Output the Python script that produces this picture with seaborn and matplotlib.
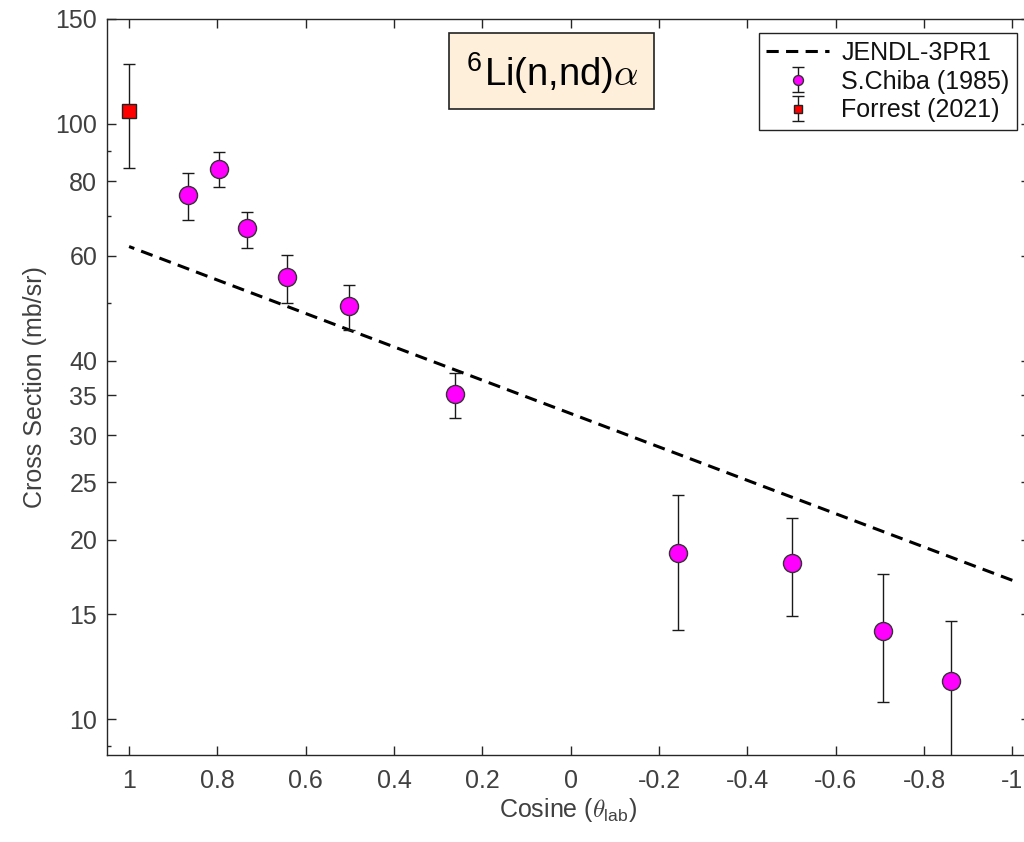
import numpy as np
import matplotlib
matplotlib.use("Agg")
import matplotlib.pyplot as plt
import seaborn as sns
from matplotlib.patches import Rectangle
from matplotlib.ticker import FixedLocator, FixedFormatter, NullFormatter

# JENDL-3PR1 evaluated angular distribution
jendl_cos = [1.0, 0.5, 0.0, -0.5, -1.0]
jendl_xs = [62.2, 45.0, 32.6, 23.6, 17.1]

# S. Chiba (1985) measured points with upper / lower error limits
chiba_cos = [0.866, 0.797, 0.732, 0.643, 0.503, 0.262, -0.242, -0.5, -0.707, -0.862]
chiba_xs = [76.0, 84.0, 66.7, 55.2, 49.5, 35.1, 19.0, 18.3, 14.05, 11.6]
chiba_hi = [82.8, 89.8, 71.2, 60.3, 53.5, 38.2, 23.8, 21.8, 17.5, 14.6]
chiba_lo = [69.0, 78.4, 61.9, 50.0, 45.1, 32.0, 14.1, 14.9, 10.7, 8.6]

# Forrest (2021) point
forrest_cos = [1.0]
forrest_xs = [105.0]
forrest_hi = [126.0]
forrest_lo = [84.4]

x_ticks = [1.0, 0.8, 0.6, 0.4, 0.2, 0.0, -0.2, -0.4, -0.6, -0.8, -1.0]
x_tick_labels = ["1", "0.8", "0.6", "0.4", "0.2", "0", "-0.2", "-0.4", "-0.6", "-0.8", "-1"]
y_ticks = [10, 15, 20, 25, 30, 35, 40, 60, 80, 100, 150]
y_tick_labels = ["10", "15", "20", "25", "30", "35", "40", "60", "80", "100", "150"]
y_minor_ticks = [9, 50, 70, 90]

sns.set_style("ticks")
plt.rcParams["font.family"] = ["Liberation Sans", "DejaVu Sans"]
plt.rcParams["mathtext.fontset"] = "cm"

AX_COLOR = "#262626"
TXT_COLOR = "#404040"

W, H = 1024, 842
fig = plt.figure(figsize=(W / 100, H / 100), dpi=100)
ax = fig.add_axes([107 / W, 87 / H, 923 / W, 736 / H])

# evaluated curve
sns.lineplot(x=jendl_cos, y=jendl_xs, ax=ax, color="black", linewidth=2.2,
             linestyle=(0, (4.0, 2.4)), label="JENDL-3PR1", legend=False)
jendl_handle = ax.lines[-1]

chiba_err = [np.subtract(chiba_xs, chiba_lo), np.subtract(chiba_hi, chiba_xs)]
chiba = ax.errorbar(chiba_cos, chiba_xs, yerr=chiba_err, fmt="o", ms=13,
                    mfc="#FF00FF", mec="#333333", mew=1.0, ecolor="#1a1a1a",
                    elinewidth=1.0, capsize=4.3, capthick=1.0,
                    label="S.Chiba (1985)", zorder=3)

forrest_err = [np.subtract(forrest_xs, forrest_lo), np.subtract(forrest_hi, forrest_xs)]
forrest = ax.errorbar(forrest_cos, forrest_xs, yerr=forrest_err, fmt="s", ms=9.5,
                      mfc="#FF0000", mec="#222222", mew=1.0, ecolor="#1a1a1a",
                      elinewidth=1.0, capsize=4.3, capthick=1.0,
                      label="Forrest (2021)", zorder=3)

ax.set_yscale("log")
ax.set_ylim(8.7, 150)
ax.set_xlim(1.05, -1.04)

ax.xaxis.set_major_locator(FixedLocator(x_ticks))
ax.xaxis.set_major_formatter(FixedFormatter(x_tick_labels))
ax.yaxis.set_major_locator(FixedLocator(y_ticks))
ax.yaxis.set_major_formatter(FixedFormatter(y_tick_labels))
ax.yaxis.set_minor_locator(FixedLocator(y_minor_ticks))
ax.yaxis.set_minor_formatter(NullFormatter())
ax.xaxis.set_minor_locator(FixedLocator([]))

for side in ["left", "right", "top", "bottom"]:
    ax.spines[side].set_visible(True)
    ax.spines[side].set_color(AX_COLOR)
    ax.spines[side].set_linewidth(1.0)

ax.tick_params(axis="both", which="major", direction="in", length=6.5, width=1.0,
               color=AX_COLOR, labelcolor=TXT_COLOR, labelsize=18,
               top=True, right=True)
ax.tick_params(axis="x", which="major", pad=10)
ax.tick_params(axis="y", which="major", pad=7)
ax.tick_params(axis="y", which="minor", direction="in", length=3.2, width=1.0,
               color=AX_COLOR, left=True, right=True)

ax.set_xlabel(r"Cosine ($\theta_{\mathregular{lab}}$)", fontsize=18,
              color=TXT_COLOR, labelpad=2)
ax.set_ylabel("Cross Section (mb/sr)", fontsize=18, color=TXT_COLOR, labelpad=6)

leg = ax.legend([jendl_handle, chiba, forrest],
                ["JENDL-3PR1", "S.Chiba (1985)", "Forrest (2021)"],
                loc="upper right", bbox_to_anchor=(1017 / W, 1 - 33 / H),
                bbox_transform=fig.transFigure, borderaxespad=0,
                fontsize=18, frameon=True, fancybox=False, framealpha=1,
                edgecolor="#222222", markerscale=0.55, handlelength=2.5,
                handletextpad=0.5, labelspacing=0.2, borderpad=0.3)
leg.get_frame().set_linewidth(1.0)
for t in leg.get_texts():
    t.set_color("#111111")

# reaction label box
bx0, by0, bw, bh = 449, 33, 205, 76
fig.add_artist(Rectangle((bx0 / W, 1 - (by0 + bh) / H), bw / W, bh / H,
                         transform=fig.transFigure, facecolor="#FDEFD9",
                         edgecolor="#222222", linewidth=1.2, zorder=5))
fig.text((bx0 + bw / 2) / W, 1 - (by0 + bh / 2 + 2) / H,
         r"$^{\mathregular{6}}$Li(n,nd)$\alpha$", fontsize=27.5, color="black",
         ha="center", va="center", zorder=6)

fig.savefig("out.png", dpi=100)
